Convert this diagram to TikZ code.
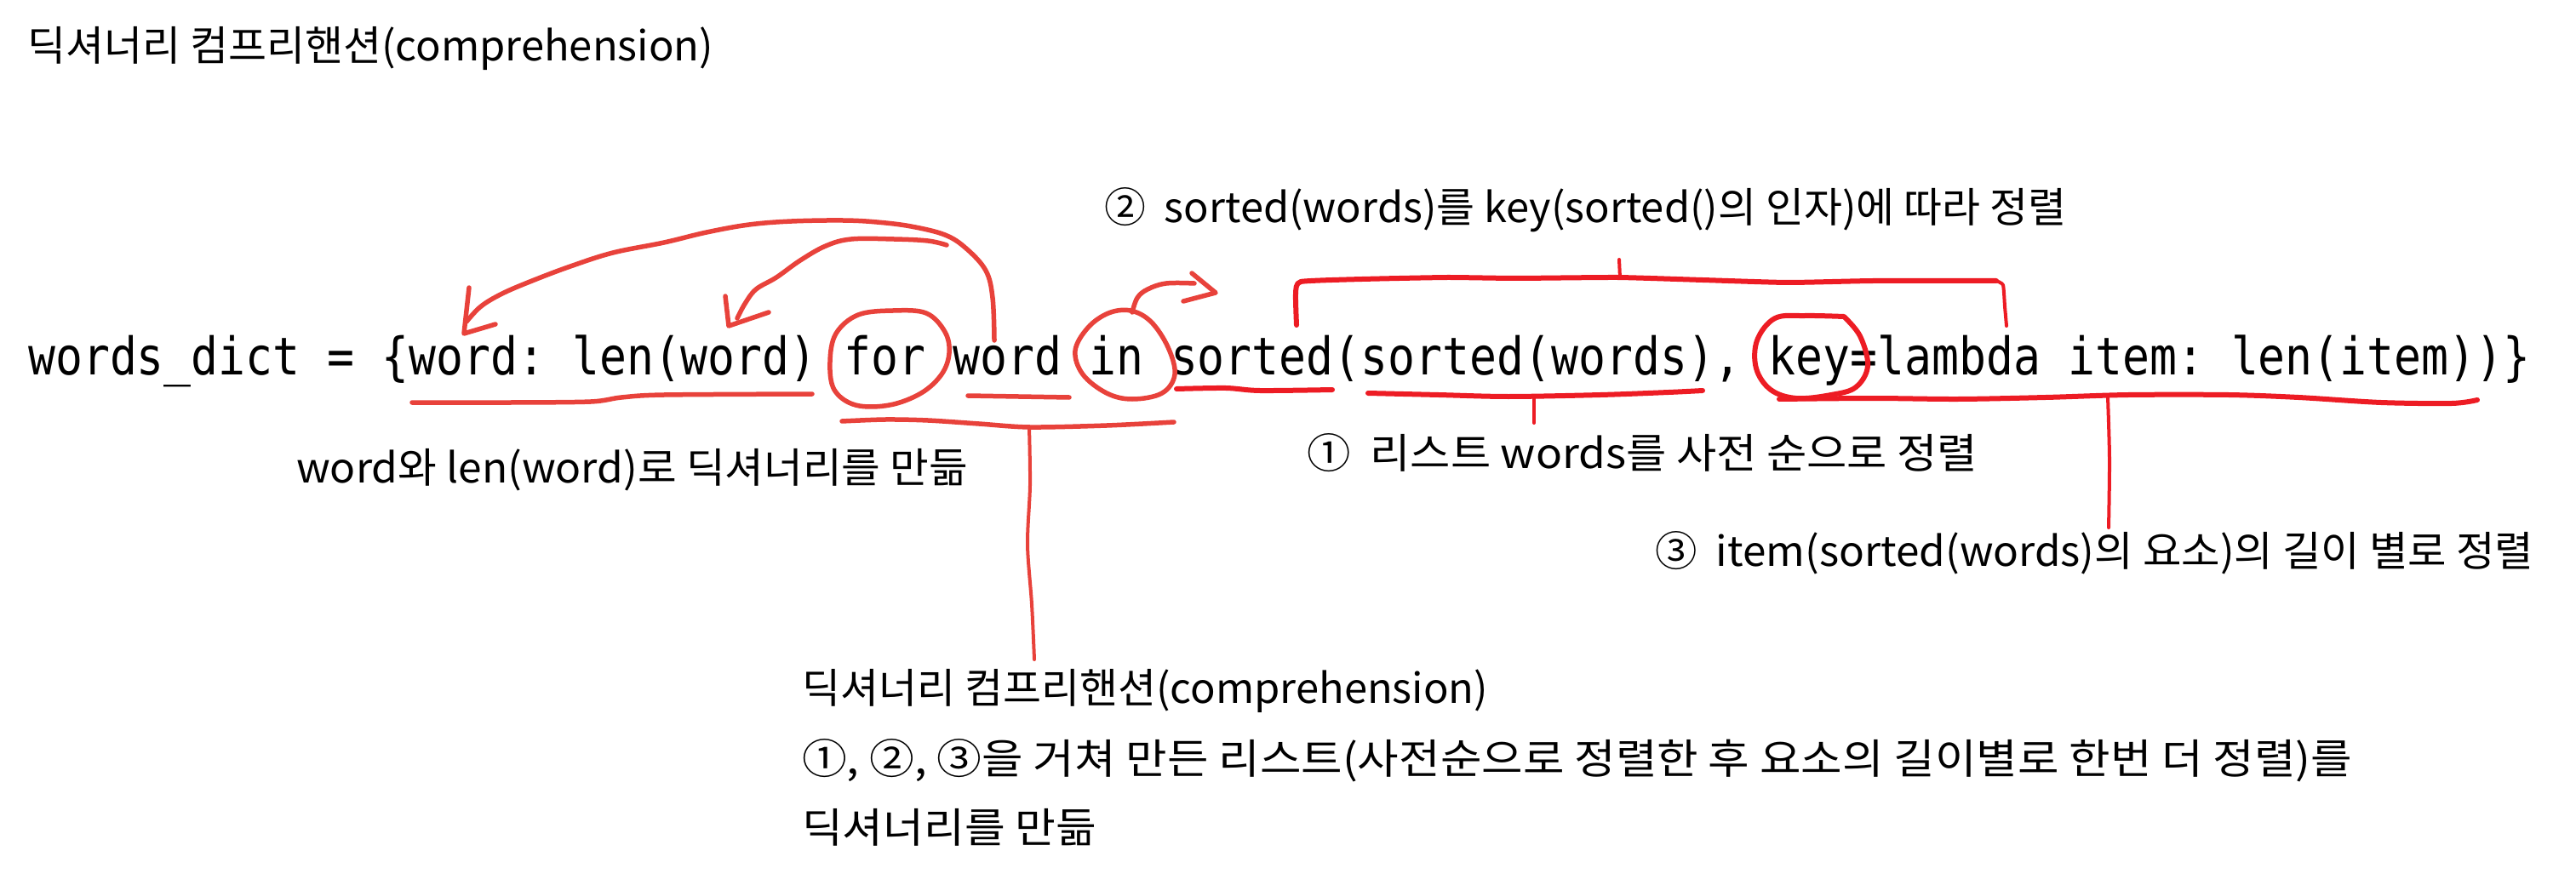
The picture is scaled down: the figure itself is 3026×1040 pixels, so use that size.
\documentclass[tikz,border=0pt]{standalone}
\usepackage{fontspec}
\usepackage{graphicx}
\newfontfamily\krfont{Noto Sans CJK KR}
\newfontfamily\codefont[FakeStretch=0.87]{DejaVu Sans Mono}
\definecolor{penA}{HTML}{E8423B}
\definecolor{penB}{HTML}{ED1C24}
\newcommand{\fitw}[2]{\resizebox{#1pt}{\height}{#2}}
\tikzset{
  lbl/.style={anchor=base west, inner sep=0pt, font=\krfont\fontsize{48.5}{58}\selectfont},
  codetxt/.style={anchor=base west, inner sep=0pt, font=\codefont\fontsize{61}{70}\selectfont},
  pen/.style={line width=5.5pt, line cap=round, line join=round, penA},
  penthin/.style={line width=4pt, line cap=round, line join=round, penA},
  penb/.style={line width=6pt, line cap=round, line join=round, penB},
  penbthin/.style={line width=4pt, line cap=round, line join=round, penB},
}
\begin{document}
\frenchspacing
\begin{tikzpicture}[x=1pt,y=-1pt]
\useasboundingbox (0,0) rectangle (3026,1040);
\fill[white] (0,0) rectangle (3026,1040);

% texts
\node[lbl] (title) at (32,72) {\fitw{806}{딕셔너리 컴프리핸션(comprehension)}};
\node[codetxt] (code) at (33,440) {words\char"5F dict = \{word: len(word) for word in sorted(sorted(words), key=lambda item: len(item))\}};
\node[lbl] (lab2) at (1297,262) {\fitw{1130}{②\ \ sorted(words)를 key(sorted()의 인자)에 따라 정렬}};
\node[lbl] (lab3) at (348,567) {\fitw{789}{word와 len(word)로 딕셔너리를 만듦}};
\node[lbl] (lab1) at (1535,550) {\fitw{788}{①\ \ 리스트 words를 사전 순으로 정렬}};
\node[lbl] (lab5) at (1944,665) {\fitw{1032}{③\ \ item(sorted(words)의 요소)의 길이 별로 정렬}};
\node[lbl] (lab6) at (942,826) {\fitw{806}{딕셔너리 컴프리핸션(comprehension)}};
\node[lbl] (lab7) at (942,909) {\fitw{1821}{①, ②, ③을 거쳐 만든 리스트(사전순으로 정렬한 후 요소의 길이별로 한번 더 정렬)를}};
\node[lbl] (lab8) at (942,990) {\fitw{346}{딕셔너리를 만듦}};

% underline word: len(word)
\draw[pen] plot[smooth, tension=0.5] coordinates {(484,473) (600,473) (694,472) (730,467) (780,464) (954,463)};

% big arrow: word -> word (key)
\draw[pen] plot[smooth, tension=0.6] coordinates {(1168,400) (1166,350) (1158,318) (1135,292) (1110,276) (1070,266) (1030,261) (990,259) (930,260) (880,264) (830,273) (780,285) (720,297) (670,313) (625,330) (590,345) (565,360) (548,378)};
\draw[pen] (551,338) -- (545,392) -- (582,381);

% small arrow: word -> len(word)
\draw[pen] plot[smooth, tension=0.6] coordinates {(1112,288) (1090,283) (1050,281) (1000,281) (970,289) (940,306) (912,326) (888,340) (875,357) (866,374)};
\draw[pen] (852,348) -- (856,383) -- (903,367);

% circle around for
\draw[pen] plot[smooth cycle, tension=0.6] coordinates {(1049,365) (1088,368) (1110,390) (1115,415) (1106,440) (1082,462) (1045,476) (1005,476) (980,458) (975,425) (982,392) (1008,370)};

% underline for word in + vertical to lab6
\draw[pen] plot[smooth, tension=0.5] coordinates {(989,495) (1040,493) (1090,494) (1150,498) (1210,502) (1300,500) (1379,496)};
\draw[penthin] plot[smooth, tension=0.5] coordinates {(1209,502) (1210,570) (1207,640) (1212,710) (1215,775)};

% underline word
\draw[pen] (1137,465) -- (1256,467);

% circle around in
\draw[pen] plot[smooth cycle, tension=0.6] coordinates {(1328,365) (1352,378) (1372,408) (1380,440) (1365,462) (1330,469) (1300,462) (1272,440) (1263,412) (1278,385) (1302,368)};

% arrow from in to sorted
\draw[pen] plot[smooth, tension=0.6] coordinates {(1330,367) (1336,350) (1348,340) (1370,333) (1403,333)};
\draw[pen] (1400,321) -- (1428,344) -- (1390,354);

% underline sorted
\draw[penb] plot[smooth, tension=0.5] coordinates {(1382,457) (1440,456) (1480,459) (1565,458)};

% underline sorted(words) + vertical
\draw[penb] plot[smooth, tension=0.5] coordinates {(1607,462) (1690,464) (1772,466) (1880,464) (1960,461) (2000,459)};
\draw[penbthin] (1802,465) -- (1802,497);

% bracket above sorted(... key=lambda
\draw[penb] plot[smooth, tension=0.3] coordinates {(1523,382) (1522,345) (1528,331) (1600,328) (1700,326) (1780,327) (1900,326) (2000,329) (2100,332) (2200,330) (2345,330)};
\draw[penbthin] plot[smooth, tension=0.3] coordinates {(2345,330) (2353,335) (2355,360) (2357,383)};
\draw[penbthin] (1903,327) -- (1902,305);

% circle around key
\draw[penb] plot[smooth, tension=0.6] coordinates {(2166,372) (2185,395) (2194,430) (2180,455) (2151,464) (2110,468) (2080,458) (2063,433) (2064,400) (2085,374) (2120,371) (2166,372)};

% underline key=lambda ... + vertical
\draw[penb] plot[smooth, tension=0.5] coordinates {(2090,469) (2200,468) (2300,469) (2403,467) (2500,464) (2618,464) (2700,467) (2797,473) (2880,474) (2910,470)};
\draw[penbthin] plot[smooth, tension=0.5] coordinates {(2476,467) (2478,540) (2477,620)};
\end{tikzpicture}
\end{document}
